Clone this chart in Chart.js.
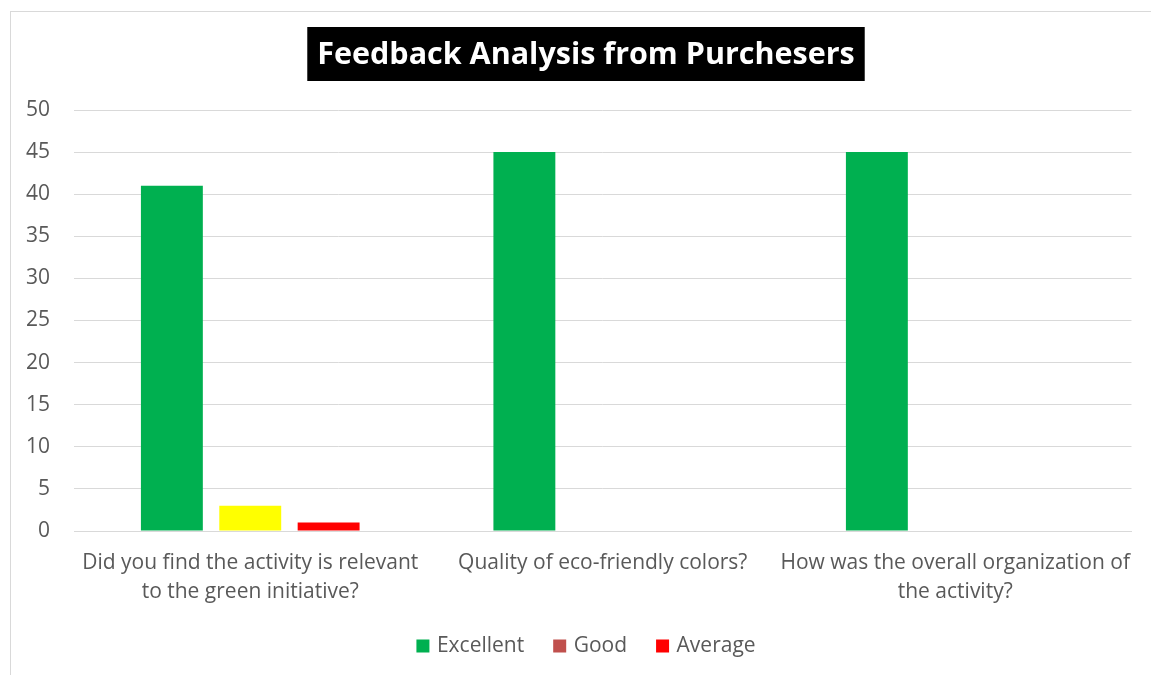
<!DOCTYPE html>
<html>
<head>
<meta charset="utf-8">
<script src="https://cdn.jsdelivr.net/npm/chart.js@4/dist/chart.umd.min.js"></script>
<style>
  html, body { margin: 0; padding: 0; background: #ffffff; }
  #wrap { position: relative; width: 1151px; height: 675px; overflow: hidden; }
  #frame { position: absolute; left: 10px; top: 11px; width: 1200px; height: 700px; border: 1px solid #d9d9d9; box-sizing: border-box; }
  canvas { position: absolute; left: 0; top: 0; }
</style>
</head>
<body>
<div id="wrap">
  <div id="frame"></div>
  <canvas id="c" width="1151" height="675"></canvas>
</div>
<script>
const titleText = 'Feedback Analysis from Purchesers';
const categories = [
  ['Did you find the activity is relevant', 'to the green initiative?'],
  ['Quality of eco-friendly colors?'],
  ['How was the overall organization of', 'the activity?']
];
const seriesNames = ['Excellent', 'Good', 'Average'];
const excellent = [41, 45, 45];
const good = [3, 0, 0];
const average = [1, 0, 0];
const yTicks = [0, 5, 10, 15, 20, 25, 30, 35, 40, 45, 50];

const barColors = ['#00B050', '#FFFF00', '#FF0000'];
const legendColors = ['#00B050', '#C0504D', '#FF0000'];
const FONT = '"Open Sans", sans-serif';
const TXT = '#595959';

// Title with black background box, centred where the reference has it
const titleBox = {
  id: 'titleBox',
  afterLayout(chart) {
    // centre the legend a little right of the canvas centre, as in the reference
    if (chart.legend) { chart.legend.left += 21; chart.legend.right += 21; }
  },
  afterDraw(chart) {
    const ctx = chart.ctx;
    ctx.save();
    ctx.font = `bold 30.5px ${FONT}`;
    const w = ctx.measureText(titleText).width;
    const cx = 586, cy = 54;
    ctx.fillStyle = '#000000';
    ctx.fillRect(cx - w / 2 - 10, cy - 27, w + 20, 54);
    ctx.fillStyle = '#ffffff';
    ctx.textAlign = 'center';
    ctx.textBaseline = 'middle';
    ctx.fillText(titleText, cx, cy + 1);
    ctx.restore();
  }
};

new Chart(document.getElementById('c'), {
  type: 'bar',
  data: {
    labels: categories,
    datasets: [
      { label: seriesNames[0], data: excellent, backgroundColor: barColors[0] },
      { label: seriesNames[1], data: good, backgroundColor: barColors[1] },
      { label: seriesNames[2], data: average, backgroundColor: barColors[2] }
    ]
  },
  options: {
    responsive: false,
    animation: false,
    devicePixelRatio: 1,
    layout: { padding: { left: 0, right: 18, top: 110, bottom: 8.5 } },
    datasets: { bar: { categoryPercentage: 0.667, barPercentage: 0.79 } },
    scales: {
      x: {
        afterFit(scale) { scale.height = 72.5; },
        grid: { display: false, drawTicks: false },
        border: { display: true, color: '#d9d9d9', width: 1 },
        ticks: { color: TXT, font: { family: FONT, size: 21, lineHeight: 1.38 }, padding: 18, maxRotation: 0, autoSkip: false }
      },
      y: {
        min: 0, max: 50,
        afterBuildTicks(scale) { scale.ticks = yTicks.map(v => ({ value: v })); },
        afterFit(scale) { scale.width = 74; },
        grid: { color: '#d9d9d9', lineWidth: 1, drawTicks: false },
        border: { display: false },
        ticks: { color: TXT, font: { family: FONT, size: 21 }, padding: 24 }
      }
    },
    plugins: {
      title: { display: false },
      legend: {
        position: 'bottom',
        labels: {
          color: TXT,
          font: { family: FONT, size: 21 },
          usePointStyle: true,
          boxWidth: 7, boxHeight: 13,
          padding: 32,
          generateLabels(chart) {
            return chart.data.datasets.map((ds, i) => ({
              text: ds.label,
              fillStyle: legendColors[i],
              strokeStyle: legendColors[i],
              lineWidth: 0,
              pointStyle: 'rect',
              hidden: false,
              datasetIndex: i,
              fontColor: TXT
            }));
          }
        }
      },
      tooltip: { enabled: false }
    }
  },
  plugins: [titleBox]
});
</script>
</body>
</html>
